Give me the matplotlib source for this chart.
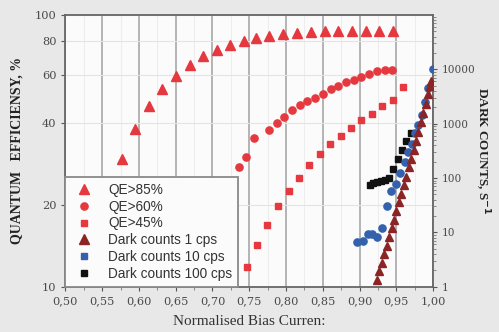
import numpy as np
import matplotlib
matplotlib.use('Agg')
import matplotlib.pyplot as plt
from matplotlib.lines import Line2D
from matplotlib.ticker import FixedLocator, NullLocator, MultipleLocator, LogLocator, NullFormatter

# QE > 85 % (triangles)
x85 = [0.5765, 0.5946, 0.6136, 0.6317, 0.6503, 0.669, 0.6871, 0.7057, 0.7242, 0.7429,
       0.7592, 0.7773, 0.7959, 0.815, 0.8336, 0.8527, 0.8707, 0.8898, 0.9084, 0.927, 0.946]
y85 = [29.4, 38.1, 46.2, 53.3, 59.5, 65.5, 70.5, 74.1, 77.6, 80.0,
       82.1, 83.9, 85.3, 85.9, 86.6, 87.1, 87.1, 87.3, 87.6, 87.6, 87.3]

# QE > 60 % (circles)
x60 = [0.7361, 0.746, 0.7558, 0.7762, 0.7871, 0.7977, 0.8082, 0.8184, 0.829, 0.8395,
       0.8499, 0.8608, 0.8712, 0.8816, 0.8921, 0.9024, 0.9133, 0.9238, 0.9343, 0.9446]
y60 = [27.5, 30.0, 35.3, 37.7, 40.0, 42.3, 44.6, 46.6, 48.3, 49.4,
       51.3, 53.3, 54.8, 56.5, 57.8, 59.0, 60.6, 62.1, 62.8, 62.6]

# QE > 45 % (squares)
x45 = [0.7476, 0.7603, 0.7748, 0.7894, 0.8037, 0.8173, 0.8317, 0.8459, 0.8599, 0.8741,
       0.8884, 0.9024, 0.9166, 0.931, 0.9452, 0.9588]
y45 = [11.8, 14.2, 16.9, 19.8, 22.5, 25.2, 28.0, 30.7, 33.4, 35.9,
       38.5, 41.1, 43.3, 46.1, 48.5, 54.2]

# dark counts, right axis
xd1 = [0.9234, 0.9269, 0.9302, 0.9336, 0.937, 0.9401, 0.9435, 0.9465, 0.9499, 0.9533,
       0.9567, 0.9599, 0.9633, 0.9669, 0.9701, 0.9737, 0.9769, 0.98, 0.9837, 0.9868,
       0.9905, 0.9936, 0.9959, 0.9973]
yd1 = [1.33, 1.91, 2.77, 4.0, 5.73, 8.3, 11.9, 17.2, 24.5, 35.6,
       51.4, 75.0, 106, 158, 225, 328, 486, 711, 1052, 1603,
       2286, 3483, 4946, 6105]

xd10 = [0.897, 0.9041, 0.9113, 0.9174, 0.9238, 0.9302, 0.937, 0.9429, 0.9494, 0.9555,
        0.9615, 0.966, 0.9707, 0.9755, 0.9796, 0.9844, 0.9891, 0.9936, 0.9993]
yd10 = [6.73, 7.02, 9.23, 9.42, 8.07, 12.1, 30.4, 58.5, 78.3, 125,
        200, 297, 428, 681, 955, 1456, 2552, 4603, 10000]

xd100 = [0.9136, 0.9188, 0.9242, 0.9293, 0.934, 0.9395, 0.946, 0.9517, 0.9578, 0.9637, 0.97]
yd100 = [76, 81, 86, 89, 91, 100, 147, 225, 333, 486, 661]

xticks = [0.50, 0.55, 0.60, 0.65, 0.70, 0.75, 0.80, 0.85, 0.90, 0.95, 1.00]
xticklabels = ['0,50', '0,55', '0,60', '0,65', '0,70', '0,75', '0,80', '0,85', '0,90', '0,95', '1,00']
yticks = [10, 20, 40, 60, 80, 100]
y2ticks = [1, 10, 100, 1000, 10000]

red = '#e5383f'
dred = '#8b2525'
blue = '#3461ad'
black = '#111111'
serif = 'Liberation Serif'
tickfont = 'DejaVu Serif'
tickcol = '#4a4a4a'

fig = plt.figure(figsize=(4.99, 3.32), dpi=100, facecolor='#e8e8e8')
ax = fig.add_axes([0.131, 0.1364, 0.737, 0.8184])
ax.set_facecolor('#fbfbfb')

ax.plot(x85, y85, '^', color=red, ms=6.5, mec=red, zorder=3)
ax.plot(x60, y60, 'o', color=red, ms=5.2, mec=red, zorder=3)
ax.plot(x45, y45, 's', color=red, ms=4.6, mec=red, zorder=3)

ax.set_xlim(0.5, 1.0)
ax.set_yscale('log')
ax.set_ylim(10, 100)
ax.yaxis.set_major_locator(FixedLocator(yticks))
ax.yaxis.set_minor_locator(NullLocator())
ax.set_yticklabels([str(t) for t in yticks])
ax.set_xticks(xticks)
ax.set_xticklabels(xticklabels)
ax.xaxis.set_minor_locator(MultipleLocator(0.025))

ax.grid(axis='x', which='major', color='#b4b4b4', lw=1.4, zorder=0)
ax.grid(axis='x', which='minor', color='#ededed', lw=0.8, zorder=0)
ax.grid(axis='y', which='major', color='#e4e4e4', lw=0.8, zorder=0)
ax.set_axisbelow(True)

for s in ax.spines.values():
    s.set_color('#666666')
    s.set_linewidth(1.3)

ax.tick_params(axis='both', which='major', labelsize=8.2, labelcolor=tickcol, color='#555555',
               length=3, direction='out')
ax.tick_params(axis='x', which='minor', length=2, color='#777777')
for lab in ax.get_xticklabels() + ax.get_yticklabels():
    lab.set_family(tickfont)

ax.set_ylabel('QUANTUM   EFFICIENSY, %', family=serif, fontweight='bold', fontsize=10,
              color='#222222', labelpad=8)
ax.set_xlabel('Normalised Bias Curren:', family=serif, fontsize=11, color='#333333', labelpad=7)

ax2 = ax.twinx()
ax2.plot(xd100, yd100, 's', color=black, ms=4.6, zorder=3)
ax2.plot(xd10, yd10, 'o', color=blue, ms=5.2, zorder=4)
ax2.plot(xd1, yd1, '^', color=dred, ms=6.0, zorder=5)
ax2.set_yscale('log')
ax2.set_ylim(1, 100000)
ax2.yaxis.set_major_locator(FixedLocator(y2ticks))
ax2.set_yticklabels([str(t) for t in y2ticks])
ax2.yaxis.set_minor_locator(LogLocator(base=10, subs=np.arange(2, 10)))
ax2.yaxis.set_minor_formatter(NullFormatter())
ax2.tick_params(axis='y', which='major', labelsize=7.6, labelcolor=tickcol, color='#555555', length=3)
ax2.tick_params(axis='y', which='minor', length=2, color='#777777')
for lab in ax2.get_yticklabels():
    lab.set_family(tickfont)
for s in ax2.spines.values():
    s.set_visible(False)
ax2.set_ylabel('DARK COUNTS, S$^{\\mathbf{-1}}$', family=serif, fontweight='bold', fontsize=9.5,
               color='#222222', rotation=-90, labelpad=11)

handles = [
    Line2D([], [], ls='none', marker='^', color=red, ms=6.5),
    Line2D([], [], ls='none', marker='o', color=red, ms=5.2),
    Line2D([], [], ls='none', marker='s', color=red, ms=4.6),
    Line2D([], [], ls='none', marker='^', color=dred, ms=6.5),
    Line2D([], [], ls='none', marker='s', color=blue, ms=4.6),
    Line2D([], [], ls='none', marker='s', color=black, ms=4.6),
]
labels = ['QE>85%', 'QE>60%', 'QE>45%', 'Dark counts 1 cps', 'Dark counts 10 cps', 'Dark counts 100 cps']
leg = ax2.legend(handles, labels, loc='lower left', bbox_to_anchor=(0, 0), borderaxespad=0,
                 fancybox=False, framealpha=1, edgecolor='#8a8a8a', facecolor='#fbfbfb',
                 prop={'family': 'Liberation Sans', 'size': 9.8}, labelspacing=0.2,
                 handletextpad=0.9, handlelength=1.8, borderpad=0.45)
leg.get_frame().set_linewidth(1.3)
for t in leg.get_texts():
    t.set_color('#333333')

fig.savefig('out.png', dpi=100, facecolor=fig.get_facecolor())
